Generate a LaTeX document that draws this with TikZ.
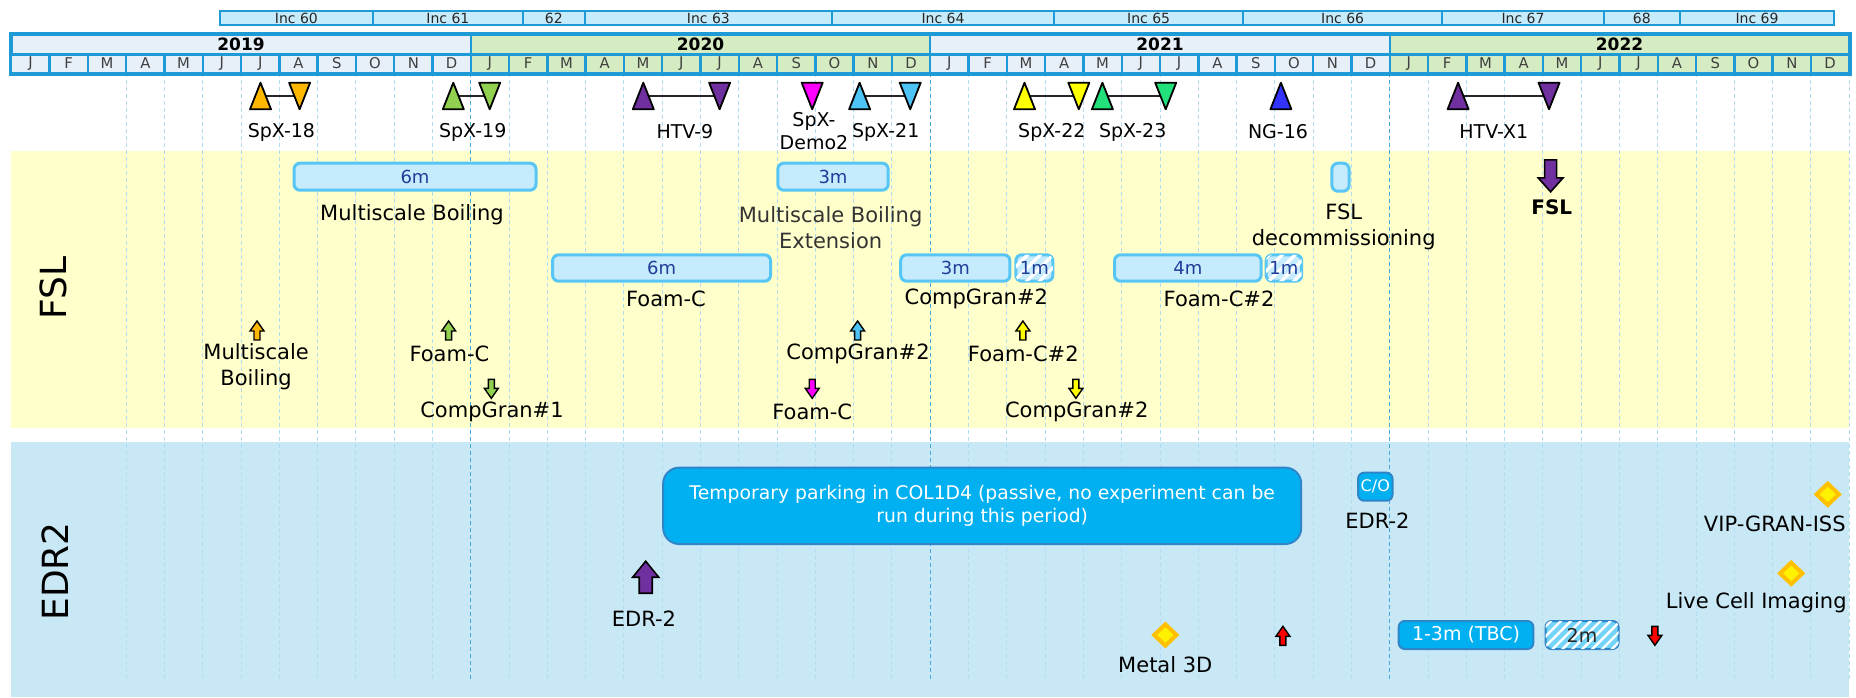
\documentclass[tikz,border=0pt]{standalone}
\usepackage{fontspec}
\setmainfont{DejaVu Sans}
\usetikzlibrary{shapes.geometric,positioning,patterns.meta}

\definecolor{incfill}{HTML}{C6EBFB}
\definecolor{gridblue}{HTML}{1E9BD7}
\definecolor{yrblue}{HTML}{E7EFF9}
\definecolor{yrgreen}{HTML}{D5EBC1}
\definecolor{fslband}{HTML}{FFFFCC}
\definecolor{edrband}{HTML}{C9E8F5}
\definecolor{barfill}{HTML}{C5EBFC}
\definecolor{barline}{HTML}{57C6F5}
\definecolor{bartext}{HTML}{1F3D99}
\definecolor{edrfill}{HTML}{00B0F0}
\definecolor{edrline}{HTML}{2E86C9}
\definecolor{spxorange}{HTML}{FFB800}
\definecolor{spxgreen}{HTML}{92D050}
\definecolor{htvpurple}{HTML}{7030A0}
\definecolor{demomagenta}{HTML}{FF00FF}
\definecolor{spxcyan}{HTML}{4DC4F5}
\definecolor{spxyellow}{HTML}{FFFF00}
\definecolor{spxmint}{HTML}{22E07A}
\definecolor{ngblue}{HTML}{3333FF}
\definecolor{gemgold}{HTML}{FFC000}
\definecolor{alertred}{HTML}{FF0000}
\definecolor{monthline}{HTML}{B3DCF2}
\definecolor{yearline}{HTML}{45A8DE}

\tikzset{
  inccell/.style={draw=gridblue, fill=incfill, line width=1pt, minimum height=7pt, inner sep=0pt, font=\fontsize{7}{8}\selectfont, text=black!85},
  yearcell/.style={draw=gridblue, line width=1.2pt, minimum width=229.74pt, minimum height=9.8pt, inner sep=0pt, font=\fontsize{8.5}{9}\selectfont\bfseries},
  monthcell/.style={draw=gridblue, line width=1.2pt, minimum width=19.15pt, minimum height=9.2pt, inner sep=0pt, font=\fontsize{7.4}{8}\selectfont, text=black!75},
  monthgrid/.style={monthline, line width=0.5pt, dash pattern=on 2pt off 1.5pt},
  yeargrid/.style={yearline, line width=0.5pt, dash pattern=on 2pt off 1.5pt},
  dockline/.style={black!85, line width=1pt},
  vehlabel/.style={font=\fontsize{9.5}{11.7}\selectfont, align=center, inner sep=0pt},
  explabel/.style={font=\fontsize{10.5}{13}\selectfont, align=center, inner sep=0pt},
  lanelabel/.style={font=\fontsize{18}{20}\selectfont, rotate=90, inner sep=0pt},
  fslbar/.style={draw=barline, fill=barfill, line width=1.5pt, rounded corners=3pt, minimum height=13.5pt, inner sep=0pt, text=bartext, font=\fontsize{9}{10}\selectfont},
  fslhatch/.style={fslbar, postaction={pattern={Lines[angle=45, distance=4.5pt, line width=1.6pt]}, pattern color=white}},
  edrbox/.style={draw=edrline, fill=edrfill, line width=1pt, rounded corners=3pt, inner sep=0pt, text=white, font=\fontsize{9.5}{11.6}\selectfont},
  edrhatch/.style={edrbox, fill=edrfill!55, text=black!85, postaction={pattern={Lines[angle=45, distance=3.5pt, line width=1.2pt]}, pattern color=white}},
  gem/.style={diamond, draw=gemgold, fill=yellow, line width=2pt, minimum width=12pt, minimum height=11.5pt, inner sep=0pt},
  pics/launchtri/.style={code={\filldraw[draw=black, fill=#1, line width=0.9pt, line join=round] (-10.5,13.3) -- (10.5,13.3) -- (0,-13.3) -- cycle;}},
  pics/returntri/.style={code={\filldraw[draw=black, fill=#1, line width=0.9pt, line join=round] (-10.5,-13.3) -- (10.5,-13.3) -- (0,13.3) -- cycle;}},
  pics/upsmall/.style={code={\filldraw[draw=black, fill=#1, line width=0.7pt] (-3,9.5) -- (-3,0.5) -- (-7,0.5) -- (0,-9.5) -- (7,0.5) -- (3,0.5) -- (3,9.5) -- cycle;}},
  pics/downsmall/.style={code={\filldraw[draw=black, fill=#1, line width=0.7pt] (-3,-9.5) -- (-3,-0.5) -- (-7,-0.5) -- (0,9.5) -- (7,-0.5) -- (3,-0.5) -- (3,-9.5) -- cycle;}},
  pics/upbig/.style={code={\filldraw[draw=black, fill=#1, line width=0.8pt] (-6.5,16) -- (-6.5,0) -- (-13,0) -- (0,-16) -- (13,0) -- (6.5,0) -- (6.5,16) -- cycle;}},
  pics/downbig/.style={code={\filldraw[draw=black, fill=#1, line width=0.8pt] (-6,-16) -- (-6,2) -- (-12.5,2) -- (0,16) -- (12.5,2) -- (6,2) -- (6,-16) -- cycle;}},
}

\begin{document}
\begin{tikzpicture}[x=0.5pt, y=-0.5pt]
  \useasboundingbox (0,0) rectangle (1856,697);

  % lanes
  \fill[fslband] (11,150.7) rectangle (1849,428.3);
  \fill[edrband] (11,442) rectangle (1849,697);
  \foreach \m in {3,...,48}
    \draw[monthgrid] ({11.3+38.29*\m},73) -- ({11.3+38.29*\m},682);
  \foreach \m in {12,24,36}
    \draw[yeargrid] ({11.3+38.29*\m},73) -- ({11.3+38.29*\m},682);

  % increments
  \foreach \a/\b/\t [count=\i] in {219.8/373/Inc 60, 373/522.7/Inc 61, 522.7/585/62, 585/831.8/Inc 63, 831.8/1054.3/Inc 64, 1054.3/1243/Inc 65, 1243/1442.3/Inc 66, 1442.3/1603.8/Inc 67, 1603.8/1679.7/68, 1679.7/1834.3/Inc 69}
    \node[inccell, minimum width={(\b-\a)*0.5pt}] (inc\i) at ({(\a+\b)/2},18) {\t};

  % years and months
  \foreach \yr/\c [count=\i from 0] in {2019/yrblue, 2020/yrgreen, 2021/yrblue, 2022/yrgreen} {
    \node[yearcell, fill=\c] (yr\yr) at ({11.3+38.29*(12*\i+6)},44.5) {\yr};
    \foreach \mo [count=\j from 0] in {J,F,M,A,M,J,J,A,S,O,N,D}
      \node[monthcell, fill=\c] (m\yr-\j) at ({11.3+38.29*(12*\i+\j+0.5)},63.5) {\mo};
  }
  \draw[gridblue, line width=1.6pt] (yr2019.north west) rectangle (m2022-11.south east);

  % vehicles
  \coordinate (spx18up) at (260.5,96);
  \coordinate (spx18dn) at (299.6,96);
  \coordinate (spx19up) at (453.3,96);
  \coordinate (spx19dn) at (489.7,96);
  \coordinate (htv9up) at (643.3,96);
  \coordinate (htv9dn) at (719.6,96);
  \coordinate (demo2dn) at (812.2,96);
  \coordinate (spx21up) at (859.6,96);
  \coordinate (spx21dn) at (910.2,96);
  \coordinate (spx22up) at (1024.5,96);
  \coordinate (spx22dn) at (1078.8,96);
  \coordinate (spx23up) at (1102.4,96);
  \coordinate (spx23dn) at (1165.7,96);
  \coordinate (ng16up) at (1280.9,96);
  \coordinate (htvx1up) at (1458.1,96);
  \coordinate (htvx1dn) at (1549,96);

  \draw[dockline] (spx18up) -- (spx18dn);
  \draw[dockline] (spx19up) -- (spx19dn);
  \draw[dockline] (htv9up) -- (htv9dn);
  \draw[dockline] (spx21up) -- (spx21dn);
  \draw[dockline] (spx22up) -- (spx22dn);
  \draw[dockline] (spx23up) -- (spx23dn);
  \draw[dockline] (htvx1up) -- (htvx1dn);

  \pic at (spx18up) {launchtri=spxorange};
  \pic at (spx18dn) {returntri=spxorange};
  \pic at (spx19up) {launchtri=spxgreen};
  \pic at (spx19dn) {returntri=spxgreen};
  \pic at (htv9up) {launchtri=htvpurple};
  \pic at (htv9dn) {returntri=htvpurple};
  \pic at (demo2dn) {returntri=demomagenta};
  \pic at (spx21up) {launchtri=spxcyan};
  \pic at (spx21dn) {returntri=spxcyan};
  \pic at (spx22up) {launchtri=spxyellow};
  \pic at (spx22dn) {returntri=spxyellow};
  \pic at (spx23up) {launchtri=spxmint};
  \pic at (spx23dn) {returntri=spxmint};
  \pic at (ng16up) {launchtri=ngblue};
  \pic at (htvx1up) {launchtri=htvpurple};
  \pic at (htvx1dn) {returntri=htvpurple};

  \node[vehlabel] (spx18) at (281.4,132) {SpX-18};
  \node[vehlabel] (spx19) at (472.7,132) {SpX-19};
  \node[vehlabel] (htv9) at (684.9,132) {HTV-9};
  \node[vehlabel] (demo2) at (814,131) {SpX-\\Demo2};
  \node[vehlabel] (spx21) at (885.7,132) {SpX-21};
  \node[vehlabel] (spx22) at (1051.8,132) {SpX-22};
  \node[vehlabel] (spx23) at (1132.7,132) {SpX-23};
  \node[vehlabel] (ng16) at (1278,132) {NG-16};
  \node[vehlabel] (htvx1) at (1493.8,132) {HTV-X1};

  % FSL lane
  \node[lanelabel] (fsllane) at (53.3,288.3) {FSL};

  \node[fslbar, minimum width=121pt] (msbbar) at (415,176.7) {6m};
  \node[explabel] (msblbl) at (412,214.5) {Multiscale Boiling};
  \node[fslbar, minimum width=55.2pt] (msebar) at (833,176.7) {3m};
  \node[explabel, text=black!80] (mselbl) at (830.6,227.5) {Multiscale Boiling\\Extension};
  \node[fslbar, minimum width=109pt, minimum height=13.2pt] (foambar) at (661.6,268) {6m};
  \node[explabel] (foamlbl) at (666,298.5) {Foam-C};
  \node[fslbar, minimum width=54.6pt, minimum height=13.2pt] (cg2bar) at (955.3,268) {3m};
  \node[fslhatch, minimum width=18.5pt, minimum height=13.2pt] (cg2ext) at (1034.3,268) {1m};
  \node[explabel] (cg2lbl) at (976.3,298.5) {CompGran\#2};
  \node[fslbar, minimum width=73.3pt, minimum height=13.2pt] (fc2bar) at (1187.8,268) {4m};
  \node[fslhatch, minimum width=17.8pt, minimum height=13.2pt] (fc2ext) at (1283.9,268) {1m};
  \node[explabel] (fc2lbl) at (1219,298.5) {Foam-C\#2};
  \node[fslbar, minimum width=8.6pt, minimum height=14pt] (decombar) at (1340.5,177.2) {};
  \node[explabel] (decomlbl) at (1343.7,227) {FSL\\decommissioning};

  \pic at (1550.6,175.8) {downbig=htvpurple};
  \node[explabel, font=\fontsize{10}{12}\selectfont\bfseries] (fslret) at (1551.8,207) {FSL};

  \pic at (257,330.5) {upsmall=spxorange};
  \node[explabel] (msbup) at (256.1,366.5) {Multiscale\\Boiling};
  \pic at (448.6,330.5) {upsmall=spxgreen};
  \node[explabel] (foamup) at (449.4,353.5) {Foam-C};
  \pic at (491.3,388.8) {downsmall=spxgreen};
  \node[explabel] (cg1dn) at (492,412) {CompGran\#1};
  \pic at (857.6,330.5) {upsmall=spxcyan};
  \node[explabel] (cg2up) at (858,353.5) {CompGran\#2};
  \pic at (812.2,388.8) {downsmall=demomagenta};
  \node[explabel] (foamdn) at (812.2,412) {Foam-C};
  \pic at (1022.9,330.5) {upsmall=spxyellow};
  \node[explabel] (fc2up) at (1023.3,353.5) {Foam-C\#2};
  \pic at (1075.9,388.8) {downsmall=spxyellow};
  \node[explabel] (cg2dn) at (1076.7,412) {CompGran\#2};

  % EDR2 lane
  \node[lanelabel] (edrlane) at (54.8,571.3) {EDR2};

  \node[edrbox, rounded corners=8pt, minimum width=319pt, minimum height=38.2pt, align=center, font=\fontsize{9.4}{11.65}\selectfont] (parking) at (982.2,505.8)
    {Temporary parking in COL1D4 (passive, no experiment can be\\run during this period)};
  \pic at (645.7,577.2) {upbig=htvpurple};
  \node[explabel] (edrup) at (644,618.5) {EDR-2};

  \node[edrbox, minimum width=17.2pt, minimum height=14pt, font=\fontsize{8}{9}\selectfont] (cobox) at (1375.3,486.7) {C/O};
  \node[explabel] (colbl) at (1377.4,520.5) {EDR-2};

  \node[gem] (metal) at (1165.3,635) {};
  \node[explabel] (metallbl) at (1165.3,664.5) {Metal 3D};

  \pic at (1282.9,635.8) {upsmall=alertred};
  \node[edrbox, minimum width=67.3pt, minimum height=14pt] (tbcbox) at (1466,635) {1-3m (TBC)};
  \node[edrhatch, minimum width=36.5pt, minimum height=14pt] (hatch2m) at (1582,635) {2m};
  \pic at (1654.9,635.8) {downsmall=alertred};

  \node[gem] (vipgem) at (1827.7,494.3) {};
  \node[explabel, anchor=east] (viplbl) at (1846,523.5) {VIP-GRAN-ISS};
  \node[gem] (livegem) at (1791.2,573.3) {};
  \node[explabel, anchor=east] (livelbl) at (1847,603) {Live Cell Imaging};
\end{tikzpicture}
\end{document}
